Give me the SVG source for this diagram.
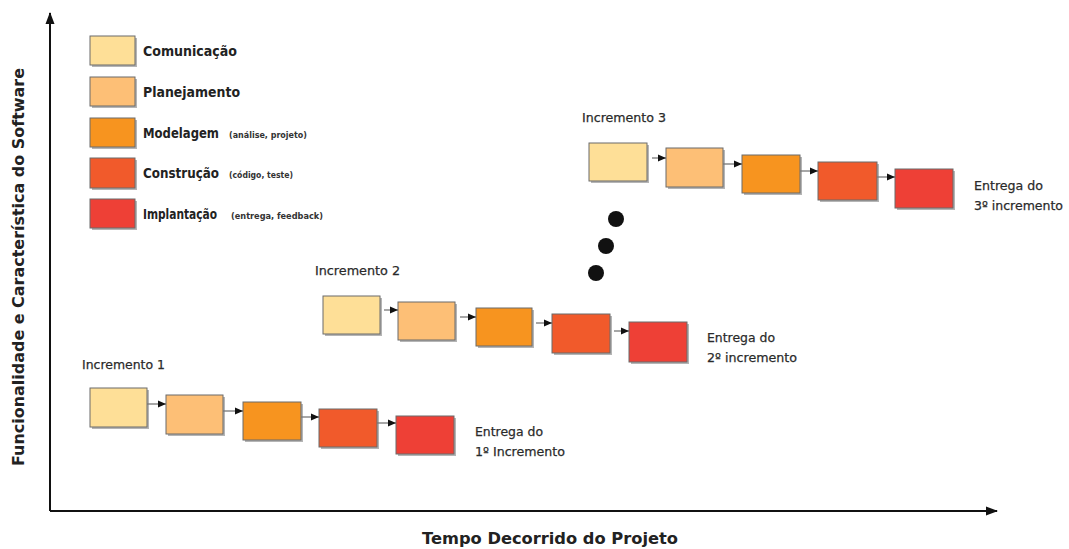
<svg xmlns="http://www.w3.org/2000/svg" width="1069" height="549" viewBox="0 0 1069 549">
<defs>
<style>
.bx{stroke:#6b6b6b;stroke-width:1}
.sh{fill:#b5b5b5}
.c1{fill:#FEDF97}.c2{fill:#FDBF76}.c3{fill:#F7941F}.c4{fill:#F15A2B}.c5{fill:#EE4036}
.lg{font-family:"DejaVu Sans","Liberation Sans",sans-serif;font-weight:bold;font-size:14px;fill:#222}
.sm{font-family:"DejaVu Sans","Liberation Sans",sans-serif;font-weight:bold;font-size:8.5px;fill:#333}
.lb{font-family:"DejaVu Sans","Liberation Sans",sans-serif;font-size:13px;fill:#2a2a2a;stroke:#2a2a2a;stroke-width:0.25}
.ax{font-family:"DejaVu Sans","Liberation Sans",sans-serif;font-weight:bold;font-size:16px;fill:#222}
.cn{stroke:#777;stroke-width:1.3;fill:none}
.axl{stroke:#111;stroke-width:2;fill:none}
</style>
<marker id="ah" viewBox="0 0 8 8" refX="8" refY="4" markerWidth="8" markerHeight="8" markerUnits="userSpaceOnUse" orient="auto">
<path d="M0,0.5 L8,4 L0,7.5 Z" fill="#111"/>
</marker>
<marker id="axh" viewBox="0 0 12 10" refX="11" refY="5" markerWidth="12" markerHeight="10" markerUnits="userSpaceOnUse" orient="auto">
<path d="M0,0.5 L12,5 L0,9.5 Z" fill="#111"/>
</marker>
</defs>
<rect width="1069" height="549" fill="#fff"/>

<g id="axes">
<path class="axl" d="M50,511 L50,13" marker-end="url(#axh)"/>
<path class="axl" d="M50,511 L997,511" marker-end="url(#axh)"/>
<text class="ax" transform="translate(24,267) rotate(-90)" text-anchor="middle" textLength="398" lengthAdjust="spacingAndGlyphs">Funcionalidade e Característica do Software</text>
<text class="ax" x="422" y="544" textLength="256" lengthAdjust="spacingAndGlyphs">Tempo Decorrido do Projeto</text>
</g>

<g id="legend">
<rect class="sh" x="92" y="38" width="45" height="29"/><rect class="bx c1" x="90" y="36" width="45" height="29"/>
<text class="lg" x="143" y="56" textLength="94" lengthAdjust="spacingAndGlyphs">Comunicação</text>
<rect class="sh" x="92" y="79" width="45" height="29"/><rect class="bx c2" x="90" y="77" width="45" height="29"/>
<text class="lg" x="143" y="97" textLength="97" lengthAdjust="spacingAndGlyphs">Planejamento</text>
<rect class="sh" x="92" y="120" width="45" height="29"/><rect class="bx c3" x="90" y="118" width="45" height="29"/>
<text class="lg" x="143" y="138" textLength="76" lengthAdjust="spacingAndGlyphs">Modelagem</text>
<text class="sm" x="229" y="138" textLength="78" lengthAdjust="spacingAndGlyphs">(análise, projeto)</text>
<rect class="sh" x="92" y="160" width="45" height="30"/><rect class="bx c4" x="90" y="158" width="45" height="30"/>
<text class="lg" x="143" y="178" textLength="76" lengthAdjust="spacingAndGlyphs">Construção</text>
<text class="sm" x="229" y="178" textLength="64" lengthAdjust="spacingAndGlyphs">(código, teste)</text>
<rect class="sh" x="92" y="201" width="45" height="29"/><rect class="bx c5" x="90" y="199" width="45" height="29"/>
<text class="lg" x="143" y="219" textLength="74" lengthAdjust="spacingAndGlyphs">Implantação</text>
<text class="sm" x="231" y="219" textLength="92" lengthAdjust="spacingAndGlyphs">(entrega, feedback)</text>
</g>

<g id="inc1">
<text class="lb" x="82" y="369" textLength="83" lengthAdjust="spacingAndGlyphs">Incremento 1</text>
<g id="i1b1"><rect class="sh" x="92" y="390" width="57" height="39"/><rect class="bx c1" x="90" y="388" width="57" height="39"/></g>
<g id="i1b2"><rect class="sh" x="168" y="397" width="57" height="39"/><rect class="bx c2" x="166" y="395" width="57" height="39"/></g>
<g id="i1b3"><rect class="sh" x="245" y="404" width="58" height="38"/><rect class="bx c3" x="243" y="402" width="58" height="38"/></g>
<g id="i1b4"><rect class="sh" x="321" y="411" width="58" height="38"/><rect class="bx c4" x="319" y="409" width="58" height="38"/></g>
<g id="i1b5"><rect class="sh" x="398" y="418" width="58" height="38"/><rect class="bx c5" x="396" y="416" width="58" height="38"/></g>
<text class="lb" x="475" y="436" textLength="68" lengthAdjust="spacingAndGlyphs">Entrega do</text>
<text class="lb" x="475" y="456" textLength="90" lengthAdjust="spacingAndGlyphs">1º Incremento</text>
</g>

<g id="inc2">
<text class="lb" x="315" y="275" textLength="85" lengthAdjust="spacingAndGlyphs">Incremento 2</text>
<g id="i2b1"><rect class="sh" x="325" y="298" width="57" height="38"/><rect class="bx c1" x="323" y="296" width="57" height="38"/></g>
<g id="i2b2"><rect class="sh" x="400" y="304" width="57" height="38"/><rect class="bx c2" x="398" y="302" width="57" height="38"/></g>
<g id="i2b3"><rect class="sh" x="478" y="310" width="56" height="38"/><rect class="bx c3" x="476" y="308" width="56" height="38"/></g>
<g id="i2b4"><rect class="sh" x="554" y="316" width="58" height="39"/><rect class="bx c4" x="552" y="314" width="58" height="39"/></g>
<g id="i2b5"><rect class="sh" x="631" y="324" width="58" height="40"/><rect class="bx c5" x="629" y="322" width="58" height="40"/></g>
<text class="lb" x="707" y="342" textLength="68" lengthAdjust="spacingAndGlyphs">Entrega do</text>
<text class="lb" x="707" y="362" textLength="90" lengthAdjust="spacingAndGlyphs">2º incremento</text>
</g>

<g id="inc3">
<text class="lb" x="582" y="122" textLength="84" lengthAdjust="spacingAndGlyphs">Incremento 3</text>
<g id="i3b1"><rect class="sh" x="591" y="145" width="58" height="38"/><rect class="bx c1" x="589" y="143" width="58" height="38"/></g>
<g id="i3b2"><rect class="sh" x="668" y="150" width="57" height="39"/><rect class="bx c2" x="666" y="148" width="57" height="39"/></g>
<g id="i3b3"><rect class="sh" x="744" y="157" width="58" height="38"/><rect class="bx c3" x="742" y="155" width="58" height="38"/></g>
<g id="i3b4"><rect class="sh" x="820" y="164" width="59" height="38"/><rect class="bx c4" x="818" y="162" width="59" height="38"/></g>
<g id="i3b5"><rect class="sh" x="897" y="171" width="58" height="39"/><rect class="bx c5" x="895" y="169" width="58" height="39"/></g>
<text class="lb" x="974" y="190" textLength="69" lengthAdjust="spacingAndGlyphs">Entrega do</text>
<text class="lb" x="974" y="210" textLength="89" lengthAdjust="spacingAndGlyphs">3º incremento</text>
</g>

<g id="dots" fill="#111">
<circle cx="616" cy="219" r="8"/>
<circle cx="606" cy="246" r="8"/>
<circle cx="596" cy="273" r="8"/>
</g>

<g id="connectors">
<path class="cn" d="M147,404 L166,404" marker-end="url(#ah)"/>
<path class="cn" d="M223,411 L243,411" marker-end="url(#ah)"/>
<path class="cn" d="M301,417 L319,417" marker-end="url(#ah)"/>
<path class="cn" d="M377,423 L396,423" marker-end="url(#ah)"/>
<path class="cn" d="M384,310 L398,310" marker-end="url(#ah)"/>
<path class="cn" d="M460,317 L476,317" marker-end="url(#ah)"/>
<path class="cn" d="M536,323 L552,323" marker-end="url(#ah)"/>
<path class="cn" d="M614,331 L629,331" marker-end="url(#ah)"/>
<path class="cn" d="M652,158 L666,158" marker-end="url(#ah)"/>
<path class="cn" d="M723,164 L742,164" marker-end="url(#ah)"/>
<path class="cn" d="M800,171 L818,171" marker-end="url(#ah)"/>
<path class="cn" d="M877,177 L895,177" marker-end="url(#ah)"/>
</g>
</svg>
